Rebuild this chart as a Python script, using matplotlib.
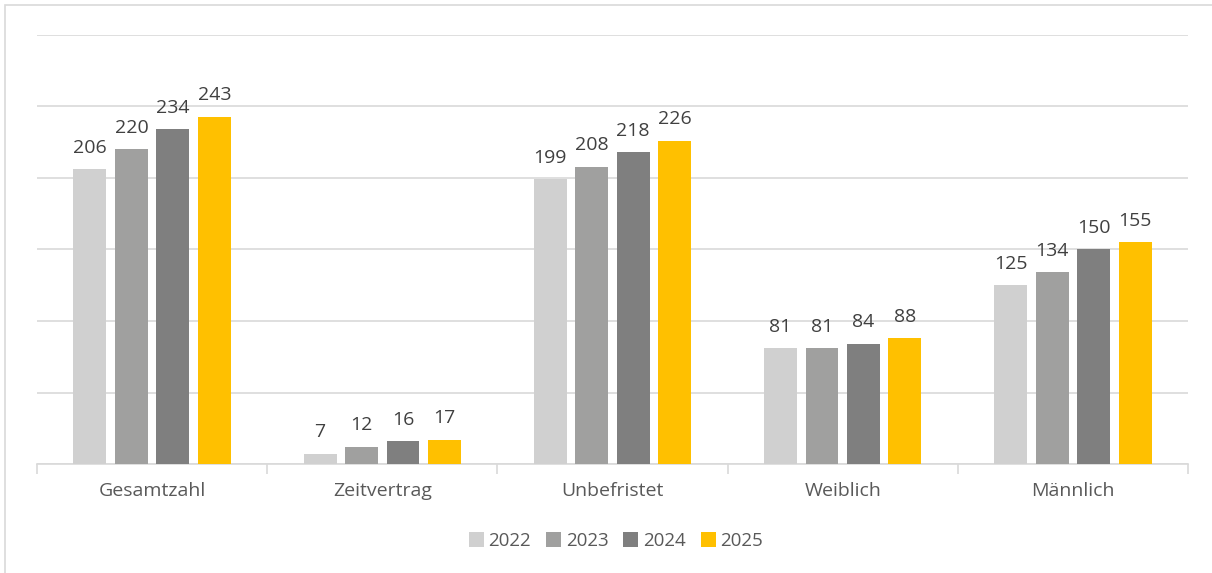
import numpy as np
import matplotlib.pyplot as plt
from matplotlib.patches import Rectangle

plt.rcParams['font.family'] = ['Open Sans', 'DejaVu Sans']

categories = ['Gesamtzahl', 'Zeitvertrag', 'Unbefristet', 'Weiblich', 'Männlich']
years = ['2022', '2023', '2024', '2025']
values = {
    '2022': [206, 7, 199, 81, 125],
    '2023': [220, 12, 208, 81, 134],
    '2024': [234, 16, 218, 84, 150],
    '2025': [243, 17, 226, 88, 155],
}
colors = ['#D0D0D0', '#A0A09F', '#7F7F7F', '#FFC000']

fig = plt.figure(figsize=(12.12, 5.73), dpi=100)
ax = fig.add_axes([37 / 1212, 1 - 464 / 573, (1188 - 37) / 1212, (464 - 35) / 573])

x = np.arange(len(categories))
pitch = 0.18
width = 0.143
for i, year in enumerate(years):
    pos = x + (i - 1.5) * pitch
    bars = ax.bar(pos, values[year], width=width, color=colors[i], label=year, zorder=3)
    for b, v in zip(bars, values[year]):
        ax.annotate(str(v), (b.get_x() + b.get_width() / 2, v), xytext=(0, 9),
                    textcoords='offset points', ha='center', va='bottom',
                    fontsize=14, color='#404040')

ax.set_xlim(-0.5, len(categories) - 0.5)
ax.set_ylim(0, 300)
ax.set_yticks(np.arange(0, 301, 50))
ax.yaxis.grid(True, color='#D9D9D9', linewidth=1.2, zorder=0)
ax.tick_params(axis='y', length=0, labelleft=False)
ax.set_xticks(x)
ax.set_xticklabels(categories, fontsize=14, color='#595959')
ax.tick_params(axis='x', which='major', length=0, pad=13)
ax.set_xticks(np.arange(-0.5, len(categories), 1), minor=True)
ax.tick_params(axis='x', which='minor', length=7, color='#D9D9D9', width=1.2)
for s in ['top', 'right', 'left']:
    ax.spines[s].set_visible(False)
ax.spines['bottom'].set_color('#D9D9D9')
ax.spines['bottom'].set_linewidth(1.2)

fig.legend(loc='center', bbox_to_anchor=(616 / 1212, 1 - 541 / 573), ncol=4, frameon=False,
           fontsize=13.5, labelcolor='#595959', handlelength=0.8, handleheight=0.8,
           handletextpad=0.25, columnspacing=0.8)

fig.patches.append(Rectangle((5 / 1212, -0.01), 1.02, 1 - 5 / 573 + 0.01, transform=fig.transFigure,
                             fill=False, edgecolor='#D9D9D9', linewidth=1.2))

fig.savefig('out.png', dpi=100)
